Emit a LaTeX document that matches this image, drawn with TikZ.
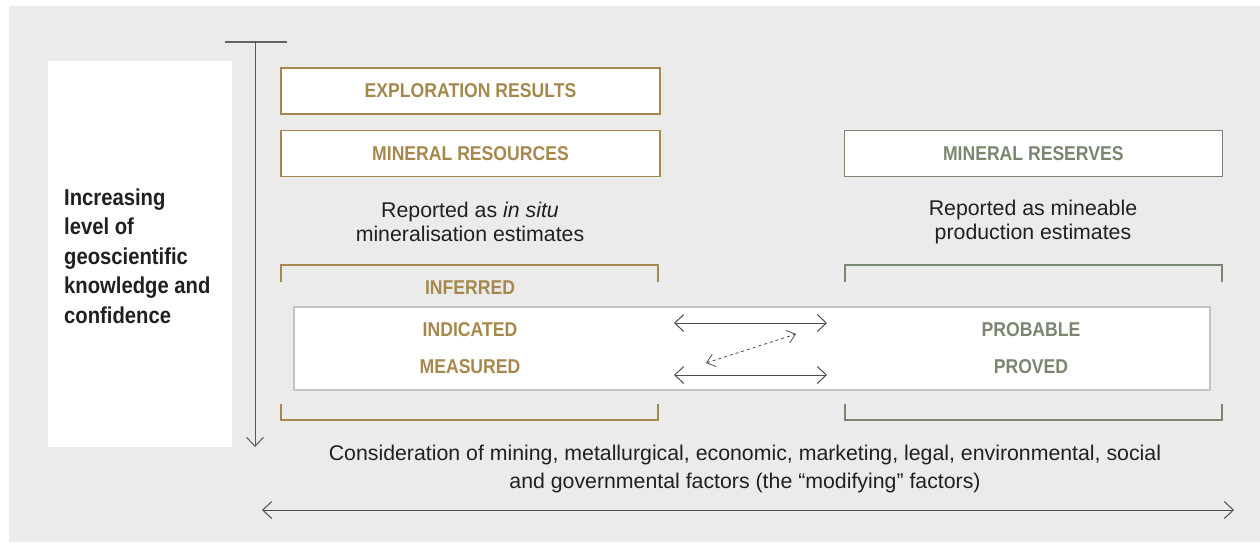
\documentclass[tikz,border=0pt]{standalone}
\usepackage{fontspec}
\setmainfont{Liberation Sans}
\newfontfamily\condfont[FakeStretch=0.88]{Liberation Sans}
\usetikzlibrary{arrows.meta, positioning}
\definecolor{gold}{HTML}{A6884C}
\definecolor{sage}{HTML}{7B8671}
\definecolor{panel}{HTML}{EAEBEA}
\definecolor{frame}{HTML}{C3C5C3}
\definecolor{ink}{HTML}{231F20}

\begin{document}
\begin{tikzpicture}[x=1pt, y=-1pt]
    \tikzstyle{resbox} = [rectangle, draw=gold, line width=1.3pt, fill=white, text=gold,
                          minimum width=379pt, minimum height=46pt, inner sep=0pt,
                          font=\condfont\bfseries\fontsize{20}{22}\selectfont]
    \tikzstyle{cat} = [inner sep=0pt, font=\condfont\bfseries\fontsize{20}{22}\selectfont]
    \tikzstyle{note} = [align=center, inner sep=0pt, text=ink, font=\fontsize{21.3}{24}\selectfont]
    \tikzstyle{link} = [{Straight Barb[length=9pt,width=17pt]}-{Straight Barb[length=9pt,width=17pt]},
                        line width=1pt, ink!80]
    \tikzstyle{bracket} = [line width=1.3pt]

    % panel
    \fill[white] (0,0) rectangle (1260,542);
    \fill[panel] (9,6) rectangle (1260,542);

    % knowledge axis
    \node (knowbox) [fill=white, minimum width=184pt, minimum height=386pt, inner sep=0pt,
                     anchor=north west] at (48,61) {};
    \node (knowtext) [anchor=west, align=left, inner sep=0pt, text=ink,
                      font=\condfont\bfseries\fontsize{23}{29.5}\selectfont] at (64,256)
                     {Increasing\\level of\\geoscientific\\knowledge and\\confidence};
    \coordinate (barl) at (225,42);
    \coordinate (barr) at (287,42);
    \coordinate (axtop) at (255,42);
    \coordinate (axbot) at (255,447);
    \draw [line width=1.3pt, ink!70] (barl) -- (barr);
    \draw [-{Straight Barb[length=9pt,width=17pt]}, line width=1pt, ink!75] (axtop) -- (axbot);

    % reporting categories
    \node (expl)  [resbox] at (470.5,91)              {EXPLORATION RESULTS};
    \node (mres)  [resbox, below=15pt of expl]        {MINERAL RESOURCES};
    \node (mresv) [resbox, draw=sage, text=sage, right=183pt of mres, minimum width=378pt] {MINERAL RESERVES};

    \node (insitu)   [note] at (470,222)  {Reported as \textit{in situ}\\mineralisation estimates};
    \node (mineable) [note] at (1033,222) {Reported as mineable\\production estimates};

    % brackets
    \draw [bracket, gold] (281,282) -- (281,265) -- (658,265) -- (658,282);
    \draw [bracket, gold] (281,404) -- (281,420) -- (658,420) -- (658,404);
    \draw [bracket, sage] (845,282) -- (845,265) -- (1222,265) -- (1222,282);
    \draw [bracket, sage] (845,404) -- (845,420) -- (1222,420) -- (1222,404);

    \node (tierbox) [draw=frame, fill=white, line width=1.3pt, minimum width=916pt,
                     minimum height=83pt, inner sep=0pt] at (752,348.5) {};

    \node (inferred)  [cat, text=gold] at (470,288)  {INFERRED};
    \node (indicated) [cat, text=gold] at (470,330)  {INDICATED};
    \node (measured)  [cat, text=gold] at (470,367)  {MEASURED};
    \node (probable)  [cat, text=sage] at (1031,330) {PROBABLE};
    \node (proved)    [cat, text=sage] at (1031,367) {PROVED};

    % conversions
    \coordinate (ia) at (674,323);
    \coordinate (pa) at (827,323);
    \coordinate (ma) at (674,375);
    \coordinate (va) at (827,375);
    \coordinate (dl) at (706,363);
    \coordinate (dr) at (796,334);
    \draw [link] (ia) -- (pa);
    \draw [link] (ma) -- (va);
    \draw [{Straight Barb[length=8pt,width=13pt]}-{Straight Barb[length=8pt,width=13pt]},
           line width=0.8pt, ink!80, dashed] (dl) -- (dr);

    % modifying factors
    \node (factors) [note, font=\fontsize{21.3}{28}\selectfont] at (745,469)
        {Consideration of mining, metallurgical, economic, marketing, legal, environmental, social\\and governmental factors (the \textquotedblleft modifying\textquotedblright\ factors)};
    \coordinate (fl) at (262,510);
    \coordinate (fr) at (1234,510);
    \draw [link] (fl) -- (fr);
\end{tikzpicture}
\end{document}
